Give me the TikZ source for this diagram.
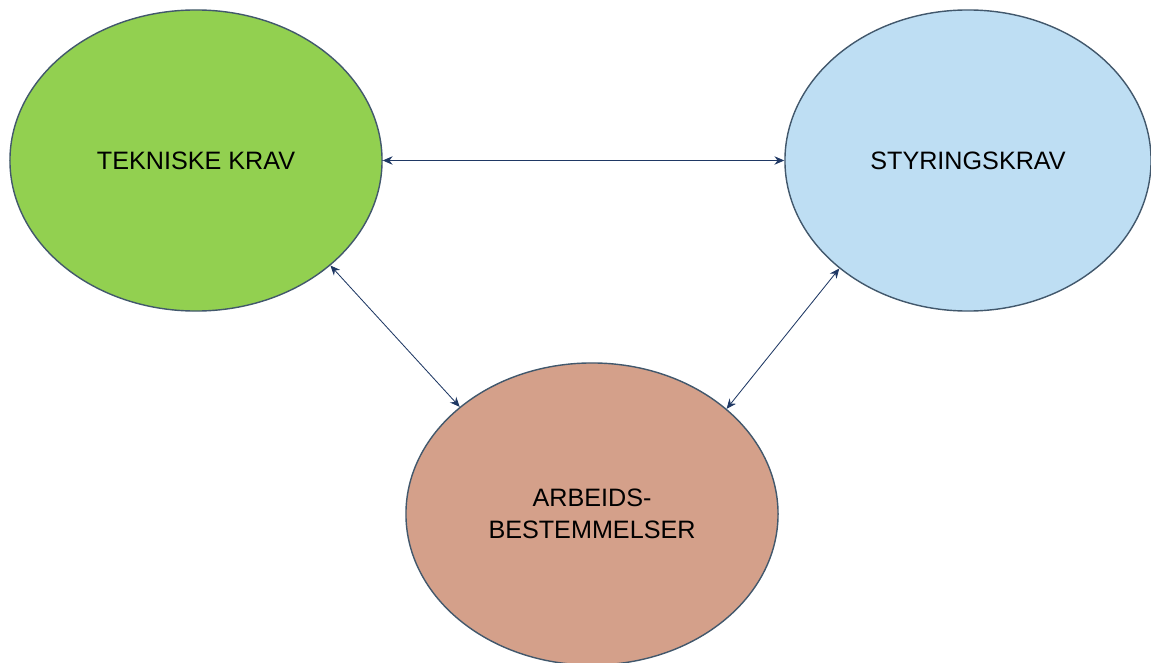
\documentclass[tikz,border=0pt]{standalone}
\usepackage{fontspec}
\setmainfont{Liberation Sans}
\usetikzlibrary{shapes.geometric,arrows.meta}
\definecolor{tekgreen}{RGB}{146,208,80}
\definecolor{styblue}{RGB}{190,222,243}
\definecolor{arbbrown}{RGB}{212,160,138}
\definecolor{rimcol}{RGB}{66,88,108}
\definecolor{pilcol}{RGB}{31,56,100}

\begin{document}
\begin{tikzpicture}[x=0.025cm,y=-0.025cm,
    krav/.style={ellipse,draw=rimcol,line width=1pt,inner sep=0pt,align=center,
        font=\fontsize{17.9}{22.5}\selectfont},
    pil/.style={draw=pilcol,line width=0.6pt,{Stealth[length=7pt,width=6pt]}-{Stealth[length=7pt,width=6pt]}}]
    \useasboundingbox (0,0) rectangle (1151,663);
    \node(tek)[krav,fill=tekgreen,minimum width=9.3cm,minimum height=7.525cm] at (196,160.5) {TEKNISKE KRAV};
    \node(sty)[krav,fill=styblue,minimum width=9.15cm,minimum height=7.525cm] at (968,160.5) {STYRINGSKRAV};
    \node(arb)[krav,fill=arbbrown,minimum width=9.3cm,minimum height=7.55cm] at (592,514) {ARBEIDS-\\BESTEMMELSER};
    \draw[pil] (tek.east) -- (sty.west);
    \draw[pil] (tek.-38.7) -- (arb.141.5);
    \draw[pil] (sty.-140.4) -- (arb.38.6);
\end{tikzpicture}
\end{document}
